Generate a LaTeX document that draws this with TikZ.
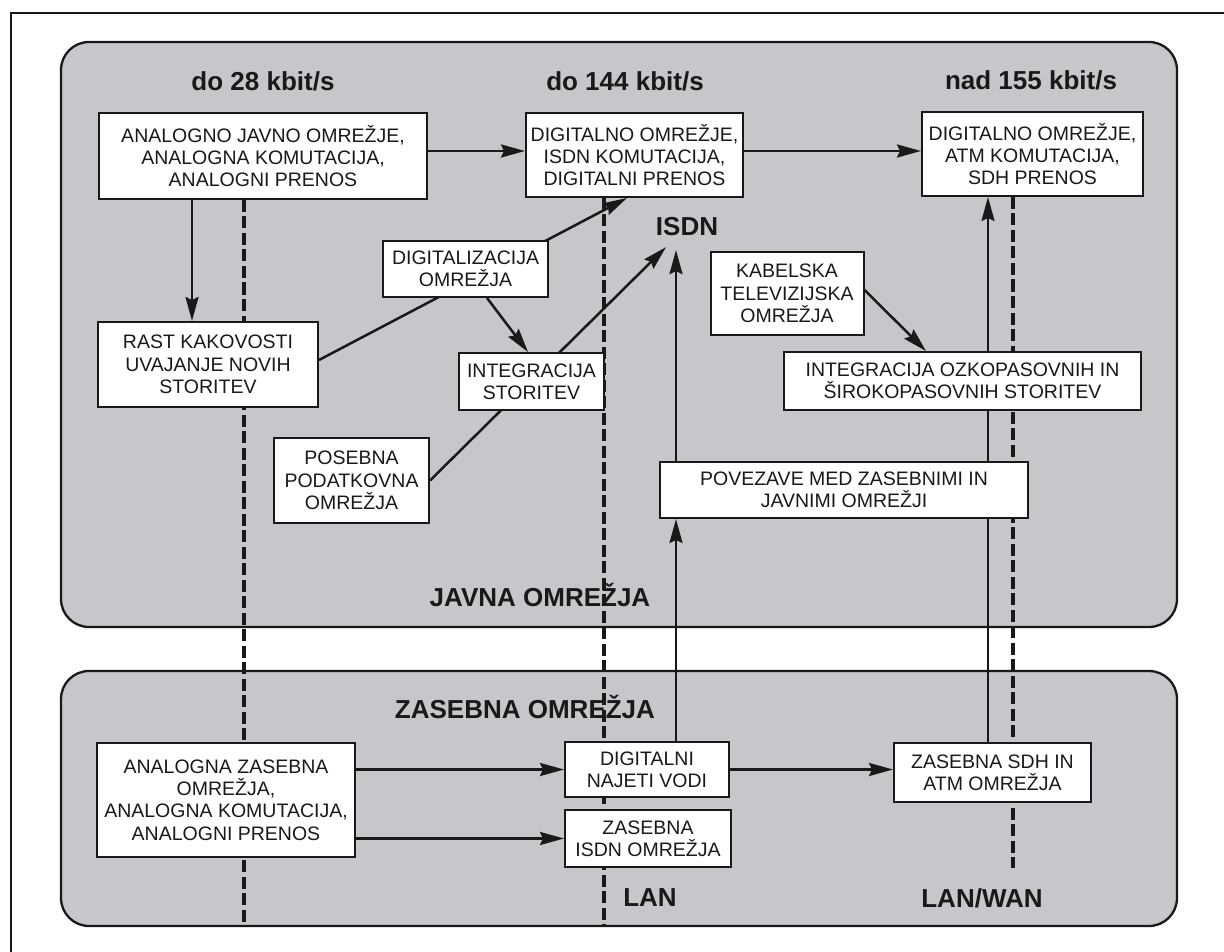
\documentclass[tikz,border=0pt]{standalone}
\usepackage{fontspec}
\setmainfont{Liberation Sans}
\usetikzlibrary{arrows.meta,calc}
\pgfdeclarelayer{back}
\pgfdeclarelayer{mid}
\pgfsetlayers{back,mid,main}
\definecolor{panelgray}{RGB}{198,198,203}
\definecolor{ink}{RGB}{25,25,25}
\begin{document}
\begin{tikzpicture}[x=1pt,y=-1pt,
  box/.style={draw=ink, line width=2pt, fill=white, align=center, inner sep=0pt,
    font=\fontsize{19.5}{22.3}\selectfont, text=ink},
  panel/.style={draw=ink, line width=2.3pt, fill=panelgray, rounded corners=28pt, inner sep=0pt},
  lbl/.style={font=\bfseries\fontsize{26}{28}\selectfont, text=ink, inner sep=0pt},
  arr/.style={draw=ink, line width=2.5pt, -{Stealth[length=24pt,width=13pt,inset=3pt]}},
  dashln/.style={draw=ink, line width=3.5pt, dash pattern=on 12pt off 4.5pt},
]
\useasboundingbox (0,0) rectangle (1224,952);

\begin{pgfonlayer}{back}
  \node[panel, minimum width=1116pt, minimum height=585pt] (up) at (619,334.5) {};
  \node[panel, minimum width=1116pt, minimum height=255pt] (low) at (619,798.5) {};
  \draw[ink, line width=2.2pt] (11,952) -- (11,13) -- (1224,13);
\end{pgfonlayer}

% labels
\node[lbl] (l28) at (263,81) {do 28 kbit/s};
\node[lbl] (l144) at (625,81) {do 144 kbit/s};
\node[lbl] (l155) at (1031,80) {nad 155 kbit/s};
\node[lbl] (isdn) at (687,227) {ISDN};
\node[lbl] (javna) at (540,595) {JAVNA OMREŽJA};
\node[lbl] (zasebna) at (525,707) {ZASEBNA OMREŽJA};
\node[lbl] (lan) at (650,898) {LAN};
\node[lbl] (lanwan) at (982,898) {LAN/WAN};

% boxes
\node[box, minimum width=328pt, minimum height=86pt] (A1) at (263,156)
  {ANALOGNO JAVNO OMREŽJE,\\ANALOGNA KOMUTACIJA,\\ANALOGNI PRENOS};
\node[box, minimum width=217pt, minimum height=84pt] (D1) at (634.5,155)
  {DIGITALNO OMREŽJE,\\ISDN KOMUTACIJA,\\DIGITALNI PRENOS};
\node[box, minimum width=221pt, minimum height=84pt] (ATM) at (1032.5,154)
  {DIGITALNO OMREŽJE,\\ATM KOMUTACIJA,\\SDH PRENOS};
\node[box, minimum width=165pt, minimum height=56pt] (DIG) at (465.5,269)
  {DIGITALIZACIJA\\OMREŽJA};
\node[box, minimum width=220pt, minimum height=85pt] (RAST) at (208,364.5)
  {RAST KAKOVOSTI\\UVAJANJE NOVIH\\STORITEV};
\node[box, minimum width=145pt, minimum height=57pt] (INTS) at (531.5,381.5)
  {INTEGRACIJA\\STORITEV};
\node[box, minimum width=155pt, minimum height=85pt] (POS) at (351.5,480.5)
  {POSEBNA\\PODATKOVNA\\OMREŽJA};
\node[box, minimum width=153pt, minimum height=83pt] (KAB) at (787,293.5)
  {KABELSKA\\TELEVIZIJSKA\\OMREŽJA};
\node[box, minimum width=357pt, minimum height=58pt] (INTO) at (962.5,381)
  {INTEGRACIJA OZKOPASOVNIH IN\\ŠIROKOPASOVNIH STORITEV};
\node[box, minimum width=368pt, minimum height=56pt] (POV) at (844,490)
  {POVEZAVE MED ZASEBNIMI IN\\JAVNIMI OMREŽJI};
\node[box, minimum width=258pt, minimum height=114pt] (AZ) at (226,800)
  {ANALOGNA ZASEBNA\\OMREŽJA,\\ANALOGNA KOMUTACIJA,\\ANALOGNI PRENOS};
\node[box, minimum width=164pt, minimum height=55pt] (DNV) at (647,769.5)
  {DIGITALNI\\NAJETI VODI};
\node[box, minimum width=166pt, minimum height=57pt] (ZI) at (648,838.5)
  {ZASEBNA\\ISDN OMREŽJA};
\node[box, minimum width=197pt, minimum height=59pt] (ZSDH) at (992.5,772.5)
  {ZASEBNA SDH IN\\ATM OMREŽJA};

\begin{pgfonlayer}{mid}
  % dashed dividers
  \draw[dashln] ([xshift=-19pt]A1.south) -- ([xshift=-19pt]A1.south |- low.south);
  \draw[dashln] ([xshift=-30.5pt]D1.south) -- ([xshift=-30.5pt]D1.south |- low.south);
  \draw[dashln] ([xshift=-19.5pt]ATM.south) -- ([xshift=-19.5pt]ATM.south |- ZI.south);
  % arrows
  \draw[arr] ([yshift=4pt]D1.west -| A1.east) -- ([yshift=4pt]D1.west);
  \draw[arr] ([yshift=4pt]D1.east) -- ([yshift=4pt]D1.east -| ATM.west);
  \draw[arr] ([xshift=-71pt]A1.south) -- ([xshift=-16pt]RAST.north);
  \draw[arr] ([yshift=4.5pt]RAST.east) -- ([xshift=-7.5pt]D1.south);
  \draw[arr] ([xshift=21.5pt]DIG.south) -- ([xshift=-3.5pt]INTS.north);
  \draw[arr] (POS.east) -- ([xshift=-21pt,yshift=-10.7pt]isdn.south);
  \draw[arr] ([xshift=-168pt]POV.north) -- ([xshift=-11pt,yshift=-13.7pt]isdn.south);
  \draw[arr] ([xshift=29pt]DNV.north) -- ([xshift=-168pt]POV.south);
  \draw[arr] ([xshift=-4.5pt]ZSDH.north) -- ([xshift=-44.5pt]ATM.south);
  \draw[arr] ([yshift=3.5pt]KAB.east) -- ([xshift=-36.5pt]INTO.north);
  \draw[arr] (AZ.east |- DNV.west) -- (DNV.west);
  \draw[arr] (AZ.east |- ZI.west) -- (ZI.west);
  \draw[arr] (DNV.east) -- (DNV.east -| ZSDH.west);
\end{pgfonlayer}
\end{tikzpicture}
\end{document}
